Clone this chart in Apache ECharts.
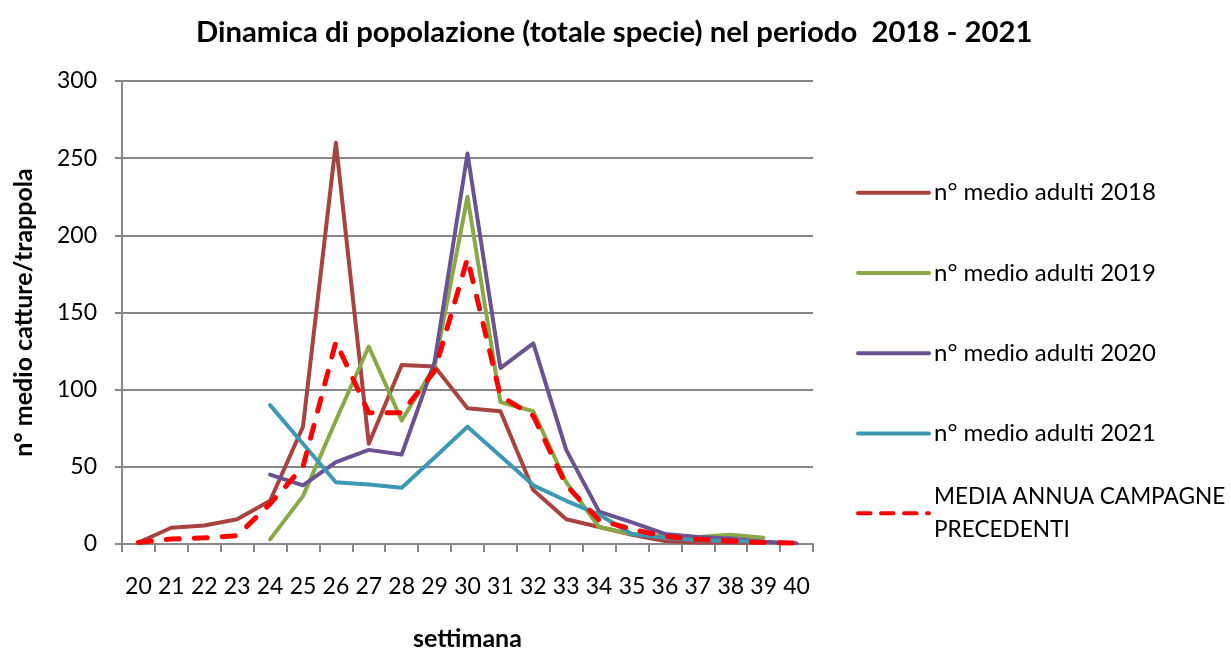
<!DOCTYPE html>
<html>
<head>
<meta charset="utf-8">
<script src="https://cdn.jsdelivr.net/npm/echarts@6/dist/echarts.min.js"></script>
<style>html,body{margin:0;padding:0;background:#fff}#c{width:1231px;height:648px}</style>
</head>
<body>
<div id="c"></div>
<script>
const weeks = ['20','21','22','23','24','25','26','27','28','29','30','31','32','33','34','35','36','37','38','39','40'];
const adulti2018 = [1, 10.5, 12, 16, 28, 76, 260, 65, 116, 115, 88, 86, 35, 16, 11, 6, 2, 1, 1, 1, null];
const adulti2019 = [null, null, null, null, 3, 31, 80, 128, 80, 115, 225, 92, 86, 40, 11, 6.5, 5, 4.5, 6, 4, null];
const adulti2020 = [null, null, null, null, 45, 38, 53, 61, 58, 118, 253, 114, 130, 61, 21, 14, 6.5, 4.5, 3.5, 1.5, 0.5];
const adulti2021 = [null, null, null, null, 90, 65, 40, 38.5, 36.5, 56, 76, 57, 38, 28, 19, 6.5, 4, 2.5, 2, 1.5, null];
const mediaPrecedenti = [1, 3.2, 4, 5.4, 26, 50, 131, 85, 85, 112, 185, 96, 83, 38, 15.5, 9.5, 5, 3, 2, 1, 0.6];
const yTicks = [0, 50, 100, 150, 200, 250, 300];

const seriesNames = ['n° medio adulti 2018','n° medio adulti 2019','n° medio adulti 2020','n° medio adulti 2021'];
const mediaName = 'MEDIA ANNUA CAMPAGNE PRECEDENTI';
const FONT = 'Lato';
const grey = '#878787';

const chart = echarts.init(document.getElementById('c'), null, {renderer:'canvas'});
function line(name, data, color, extra) {
  return Object.assign({
    name, type:'line', data, symbol:'none', connectNulls:false,
    lineStyle:{color, width:4, cap:'round', join:'round'},
    itemStyle:{color}, z:2
  }, extra||{});
}
chart.setOption({
  animation:false,
  textStyle:{fontFamily:FONT},
  title:{
    text:'Dinamica di popolazione (totale specie) nel periodo  2018 - 2021',
    left:191, top:13,
    textStyle:{fontFamily:FONT, fontWeight:'bold', fontSize:29.3, color:'#000'}
  },
  grid:{left:122, right:418, top:81, bottom:104, containLabel:false, outerBoundsMode:'none'},
  legend:[{
    data:seriesNames, orient:'vertical', left:856, top:178.7, padding:0,
    itemWidth:71, itemHeight:14, itemGap:52.3,
    itemStyle:{opacity:0},
    lineStyle:{width:4, cap:'round'},
    textStyle:{fontFamily:FONT, fontSize:24, color:'#000', lineHeight:28}
  },{
    data:[mediaName], orient:'vertical', left:856, top:463.2, padding:0,
    itemWidth:71, itemHeight:14,
    itemStyle:{opacity:0},
    lineStyle:{width:4, type:[12.5,10.5], cap:'round'},
    formatter:()=>'MEDIA ANNUA CAMPAGNE\nPRECEDENTI',
    textStyle:{fontFamily:FONT, fontSize:22.6, color:'#000', lineHeight:33.4, padding:[33.4,0,0,0]}
  }],
  xAxis:{
    type:'category', data:weeks, boundaryGap:true,
    name:'settimana', nameLocation:'middle', nameGap:82.5,
    nameTextStyle:{fontFamily:FONT, fontWeight:'bold', fontSize:25, color:'#000'},
    axisLine:{lineStyle:{color:grey, width:2}},
    axisTick:{show:true, length:8, lineStyle:{color:grey, width:2}},
    axisLabel:{fontFamily:FONT, fontSize:23, color:'#000', margin:31, interval:0}
  },
  yAxis:{
    type:'value', min:0, max:300, interval:50,
    name:'n° medio catture/trappola', nameLocation:'middle', nameGap:86,
    nameTextStyle:{fontFamily:FONT, fontWeight:'bold', fontSize:25, color:'#000'},
    axisLine:{show:true, lineStyle:{color:grey, width:2}},
    axisTick:{show:true, length:7, lineStyle:{color:grey, width:2}},
    splitLine:{lineStyle:{color:grey, width:2}},
    axisLabel:{fontFamily:FONT, fontSize:23, color:'#000', margin:25,
      formatter:v=> yTicks.includes(v) ? String(v) : ''}
  },
  series:[
    line(seriesNames[0], adulti2018, '#A8433F'),
    line(seriesNames[1], adulti2019, '#89A947'),
    line(seriesNames[2], adulti2020, '#6B5393'),
    line(seriesNames[3], adulti2021, '#3D99B3'),
    line(mediaName, mediaPrecedenti, '#FF0000', {
      lineStyle:{color:'#FF0000', width:5, type:[13,15], cap:'round', join:'round'}, z:3
    })
  ]
});
</script>
</body>
</html>
